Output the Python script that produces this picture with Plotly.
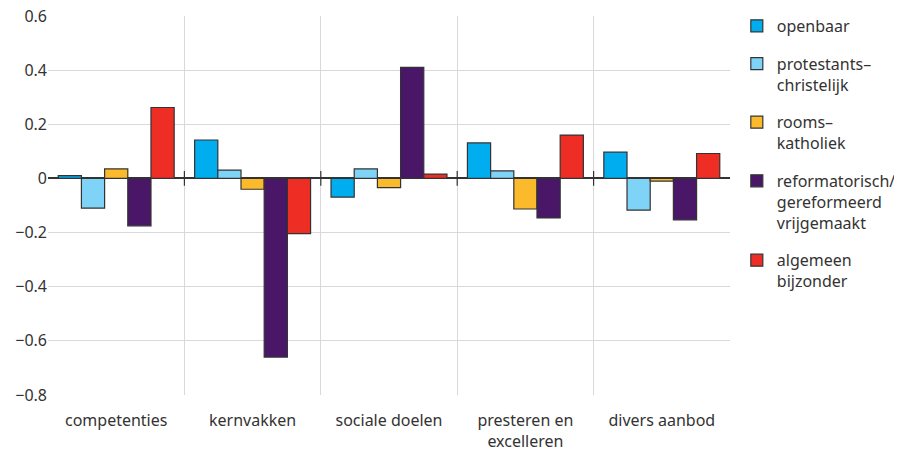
import plotly.graph_objects as go

# Categories and series
categories = ['competenties', 'kernvakken', 'sociale doelen', 'presteren en<br>excelleren', 'divers aanbod']

series_names = [
    'openbaar',
    'protestants–<br>christelijk',
    'rooms–<br>katholiek',
    'reformatorisch/<br>gereformeerd<br>vrijgemaakt',
    'algemeen<br>bijzonder',
]
openbaar = [0.01, 0.142, -0.069, 0.131, 0.097]
protestants = [-0.11, 0.031, 0.035, 0.028, -0.117]
rooms = [0.035, -0.04, -0.034, -0.113, -0.01]
reformatorisch = [-0.175, -0.66, 0.41, -0.146, -0.153]
algemeen = [0.262, -0.204, 0.016, 0.16, 0.092]

colors = ['#00aeef', '#7fd3f7', '#fbba2c', '#4a1768', '#ee2d24']
all_values = [openbaar, protestants, rooms, reformatorisch, algemeen]

font_family = 'Noto Sans'
text_color = '#333333'

fig = go.Figure()

for i, (name, vals, col) in enumerate(zip(series_names, all_values, colors)):
    fig.add_trace(go.Bar(
        x=categories,
        y=vals,
        name=name,
        legendgroup=f'g{i}',
        marker=dict(color=col, line=dict(color='#333333', width=1.2)),
    ))

# little tick marks on the zero line at the category boundaries
for b in [0.5, 1.5, 2.5, 3.5]:
    fig.add_shape(type='line', xref='x', yref='y', x0=b, x1=b, y0=-0.027, y1=0.027,
                  line=dict(color='#333333', width=1.2))

# the page body adds an 8px offset, margins are set to compensate
fig.update_layout(
    width=902, height=451,
    margin=dict(l=40, r=180, t=8, b=64, autoexpand=False),
    paper_bgcolor='white',
    plot_bgcolor='white',
    barmode='group',
    bargap=0.15,
    bargroupgap=0,
    font=dict(family=font_family, size=16, color=text_color),
    showlegend=True,
    legend=dict(
        xref='container', yref='container',
        x=0.808, y=0.998, xanchor='left', yanchor='top',
        font=dict(family=font_family, size=16, color=text_color),
        tracegroupgap=14,
        itemwidth=30,
        valign='top',
        maxheight=445,
    ),
)

fig.update_xaxes(
    type='category',
    tickson='boundaries',
    showgrid=True, gridcolor='#d9d9d9', gridwidth=1,
    ticks='', showline=False,
    tickfont=dict(size=16),
    ticklabelstandoff=14,
)
fig.update_yaxes(
    range=[-0.8, 0.6],
    showgrid=True, gridcolor='#d9d9d9', gridwidth=1,
    zeroline=True, zerolinecolor='#333333', zerolinewidth=1.5,
    ticks='', showline=False,
    tickfont=dict(size=16),
    ticklabeloverflow='allow',
    tickvals=[0.6, 0.4, 0.2, 0, -0.2, -0.4, -0.6, -0.8],
    ticktext=['0.6', '0.4', '0.2', '0', '−0.2', '−0.4', '−0.6', '−0.8'],
)

fig.write_html("out.html")
